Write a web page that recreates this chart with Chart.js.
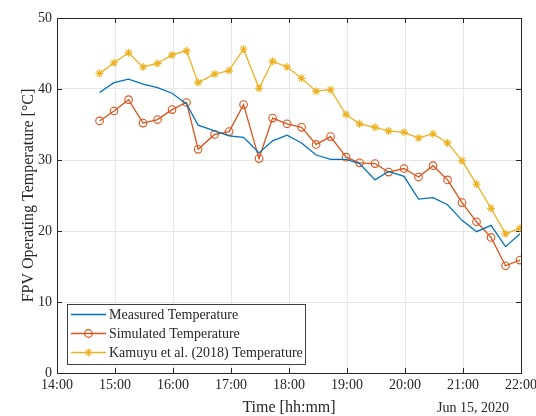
<!DOCTYPE html>
<html>
<head>
<meta charset="utf-8">
<script src="https://cdn.jsdelivr.net/npm/chart.js@4/dist/chart.umd.min.js"></script>
<style>
  html, body { margin: 0; padding: 0; background: #fff; }
  #wrap { width: 536px; height: 416px; position: relative; }
</style>
</head>
<body>
<div id="wrap"><canvas id="fpvChart"></canvas></div>
<script>
// Datos (15 de junio de 2020)
const times = ['14:44', '14:59', '15:14', '15:29', '15:44', '15:59', '16:14', '16:26', '16:43', '16:58',
               '17:13', '17:29', '17:43', '17:58', '18:13', '18:28', '18:43', '18:59', '19:13', '19:29',
               '19:43', '19:59', '20:14', '20:29', '20:44', '20:59', '21:14', '21:29', '21:44', '21:59'];
const measured = [39.5, 40.9, 41.4, 40.7, 40.2, 39.4, 37.9, 34.9, 34.1, 33.4,
                  33.2, 31.0, 32.7, 33.5, 32.4, 30.7, 30.1, 30.1, 29.5, 27.2,
                  28.4, 27.7, 24.5, 24.7, 23.7, 21.5, 19.9, 20.8, 17.8, 19.6];
const simulated = [35.5, 36.9, 38.5, 35.2, 35.7, 37.1, 38.1, 31.5, 33.6, 34.0,
                   37.8, 30.2, 35.9, 35.1, 34.6, 32.2, 33.3, 30.4, 29.6, 29.5,
                   28.3, 28.8, 27.6, 29.2, 27.2, 24.0, 21.3, 19.1, 15.1, 15.9];
const kamuyu = [42.2, 43.7, 45.1, 43.1, 43.6, 44.8, 45.4, 40.9, 42.1, 42.6,
                45.6, 40.1, 43.9, 43.1, 41.5, 39.7, 39.9, 36.4, 35.1, 34.6,
                34.1, 33.9, 33.1, 33.7, 32.4, 29.9, 26.6, 23.2, 19.6, 20.4];
const xTicks = ['14:00', '15:00', '16:00', '17:00', '18:00', '19:00', '20:00', '21:00', '22:00'];
const yTicks = [0, 10, 20, 30, 40, 50];
const seriesNames = ['Measured Temperature', 'Simulated Temperature', 'Kamuyu et al. (2018) Temperature'];

const toMin = t => { const p = t.split(':'); return +p[0] * 60 + +p[1]; };
const fmtMin = m => String(Math.floor(m / 60)).padStart(2, '0') + ':' + String(m % 60).padStart(2, '0');
const pts = arr => arr.map((v, i) => ({ x: toMin(times[i]), y: v }));

const axisColor = '#262626';
const serif = '"Liberation Serif", "DejaVu Serif", serif';

// Caja de ejes con marcas hacia dentro (estilo MATLAB)
const boxPlugin = {
    id: 'boxTicks',
    beforeDatasetsDraw(chart) {
        const { ctx, chartArea: a, scales: { x, y } } = chart;
        const len = 5;
        ctx.save();
        ctx.strokeStyle = axisColor;
        ctx.lineWidth = 1;
        ctx.beginPath();
        xTicks.forEach(t => {
            const px = Math.round(x.getPixelForValue(toMin(t))) + 0.5;
            ctx.moveTo(px, a.bottom); ctx.lineTo(px, a.bottom - len);
            ctx.moveTo(px, a.top); ctx.lineTo(px, a.top + len);
        });
        yTicks.forEach(t => {
            const py = Math.round(y.getPixelForValue(t)) + 0.5;
            ctx.moveTo(a.left, py); ctx.lineTo(a.left + len, py);
            ctx.moveTo(a.right, py); ctx.lineTo(a.right - len, py);
        });
        ctx.stroke();
        ctx.strokeRect(Math.round(a.left) + 0.5, Math.round(a.top) + 0.5,
                       Math.round(a.right - a.left), Math.round(a.bottom - a.top));
        ctx.restore();
    }
};

function drawMarker(ctx, style, x, y, r) {
    ctx.beginPath();
    if (style === 'circle') {
        ctx.arc(x, y, r, 0, Math.PI * 2);
    } else if (style === 'star') {
        for (let k = 0; k < 4; k++) {
            const ang = k * Math.PI / 4;
            ctx.moveTo(x - r * Math.cos(ang), y - r * Math.sin(ang));
            ctx.lineTo(x + r * Math.cos(ang), y + r * Math.sin(ang));
        }
    }
    ctx.stroke();
}

// Leyenda dentro del área del gráfico, abajo a la izquierda
const legendPlugin = {
    id: 'boxLegend',
    afterDraw(chart) {
        const { ctx, chartArea: a } = chart;
        const bx = a.left + 10, by = 304, bw = 238, bh = 60;
        ctx.save();
        ctx.fillStyle = '#fff';
        ctx.fillRect(bx, by, bw, bh);
        ctx.strokeStyle = '#404040';
        ctx.lineWidth = 1;
        ctx.strokeRect(bx + 0.5, by + 0.5, bw, bh);
        ctx.font = '14px ' + serif;
        ctx.textBaseline = 'middle';
        ctx.textAlign = 'left';
        chart.data.datasets.forEach((ds, i) => {
            const ly = by + 10.5 + i * 19;
            ctx.strokeStyle = ds.borderColor;
            ctx.lineWidth = ds.borderWidth;
            ctx.beginPath();
            ctx.moveTo(bx + 4, ly); ctx.lineTo(bx + 39, ly);
            ctx.stroke();
            if (ds.pointRadius > 0) {
                ctx.lineWidth = 1.2;
                drawMarker(ctx, ds.pointStyle, bx + 21.5, ly, ds.pointRadius);
            }
            ctx.fillStyle = axisColor;
            ctx.fillText(ds.label, bx + 42, ly + 0.5);
        });
        // fecha bajo el eje
        ctx.textAlign = 'right';
        ctx.fillText('Jun 15, 2020', 509, 408);
        ctx.restore();
    }
};

const ctx = document.getElementById('fpvChart').getContext('2d');
const fpvChart = new Chart(ctx, {
    type: 'line',
    data: {
        datasets: [{
            label: seriesNames[0],
            data: pts(measured),
            borderColor: '#0072BD',
            borderWidth: 1.3,
            pointRadius: 0,
            pointStyle: 'circle',
            fill: false
        }, {
            label: seriesNames[1],
            data: pts(simulated),
            borderColor: '#D95319',
            backgroundColor: 'rgba(0,0,0,0)',
            borderWidth: 1.3,
            pointStyle: 'circle',
            pointRadius: 3.8,
            pointBorderWidth: 1.1,
            pointBackgroundColor: 'rgba(0,0,0,0)',
            fill: false
        }, {
            label: seriesNames[2],
            data: pts(kamuyu),
            borderColor: '#EDB120',
            backgroundColor: '#EDB120',
            borderWidth: 1.3,
            pointStyle: 'star',
            pointRadius: 4,
            pointBorderWidth: 1.2,
            fill: false
        }]
    },
    options: {
        responsive: true,
        maintainAspectRatio: false,
        animation: false,
        events: [],
        layout: { padding: { top: 18, right: 15, left: 0, bottom: 0 } },
        scales: {
            x: {
                type: 'linear',
                min: toMin(xTicks[0]),
                max: toMin(xTicks[xTicks.length - 1]),
                afterFit: s => { s.height = 43; s.paddingLeft = 0; s.paddingRight = 0; },
                afterBuildTicks: s => { s.ticks = xTicks.map(t => ({ value: toMin(t) })); },
                ticks: {
                    color: axisColor,
                    font: { family: serif, size: 14 },
                    padding: 4,
                    maxRotation: 0,
                    autoSkip: false,
                    callback: v => fmtMin(v)
                },
                grid: { color: '#e6e6e6', drawTicks: false },
                border: { display: false },
                title: {
                    display: true,
                    text: 'Time [hh:mm]',
                    color: axisColor,
                    font: { family: serif, size: 16, lineHeight: 1 },
                    padding: { top: 0, bottom: 0 }
                }
            },
            y: {
                min: 0,
                max: 50,
                afterFit: s => { s.width = 57; s.paddingTop = 0; s.paddingBottom = 0; },
                afterBuildTicks: s => { s.ticks = yTicks.map(v => ({ value: v })); },
                ticks: {
                    color: axisColor,
                    font: { family: serif, size: 14 },
                    padding: 5
                },
                grid: { color: '#e6e6e6', drawTicks: false },
                border: { display: false },
                title: {
                    display: true,
                    text: 'FPV Operating Temperature [°C]',
                    color: axisColor,
                    font: { family: serif, size: 16, lineHeight: 1.2 },
                    padding: { top: 19, bottom: 0 }
                }
            }
        },
        plugins: {
            legend: { display: false },
            tooltip: { enabled: false }
        }
    },
    plugins: [boxPlugin, legendPlugin]
});
</script>
</body>
</html>
